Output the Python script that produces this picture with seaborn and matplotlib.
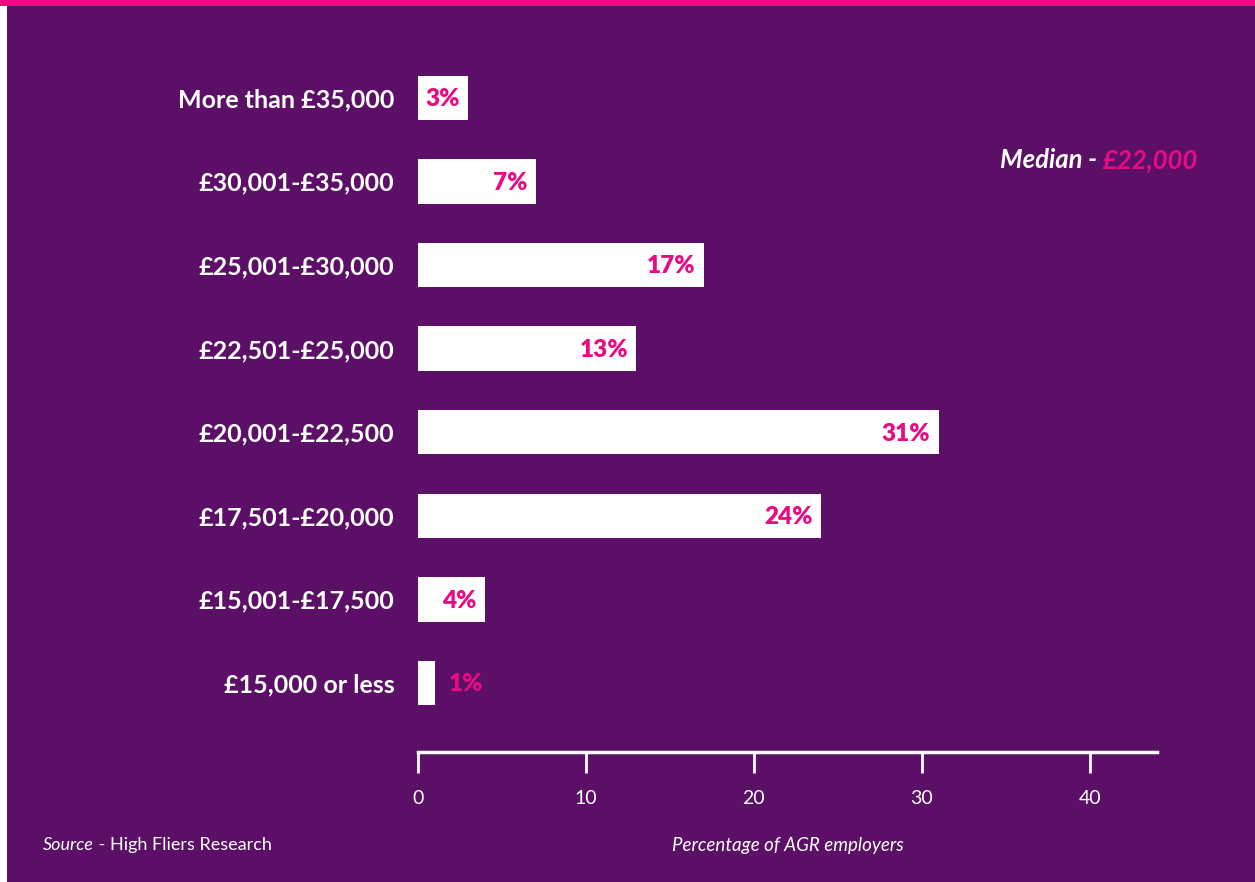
import matplotlib
matplotlib.use("Agg")
import matplotlib.pyplot as plt
import seaborn as sns
import pandas as pd
from matplotlib.patches import Rectangle

# Starting salary bands and share of employers
bands = ["More than £35,000", "£30,001-£35,000", "£25,001-£30,000", "£22,501-£25,000",
         "£20,001-£22,500", "£17,501-£20,000", "£15,001-£17,500", "£15,000 or less"]
shares = [3, 7, 17, 13, 31, 24, 4, 1]
x_ticks = [0, 10, 20, 30, 40]
median_text = "£22,000"

PURPLE = "#5C0F66"
PINK = "#EA0A82"
WHITE = "#FFFFFF"
FONT = "Lato"

sns.set_theme(style="white")
plt.rcParams["font.family"] = [FONT, "DejaVu Sans"]

df = pd.DataFrame({"band": bands, "share": shares})

fig = plt.figure(figsize=(12.55, 8.82), dpi=100)
fig.patch.set_facecolor(WHITE)

# page background: purple panel with pink top stripe
fig.add_artist(Rectangle((7 / 1255, 0), 1 - 7 / 1255, 1 - 6 / 882,
                         transform=fig.transFigure, facecolor=PURPLE, edgecolor="none", zorder=0))
fig.add_artist(Rectangle((0, 1 - 6 / 882), 1, 6 / 882,
                         transform=fig.transFigure, facecolor=PINK, edgecolor="none", zorder=0))

ax = fig.add_axes([418 / 1255, 1 - 752 / 882, 739 / 1255, 696 / 882])
ax.set_facecolor("none")

sns.barplot(data=df, y="band", x="share", orient="h", color=WHITE, saturation=1,
            width=0.53, ax=ax, edgecolor="none")

ax.set_xlim(0, 44)
ax.set_ylim(7.826, -0.5)

# value labels
for i, v in enumerate(shares):
    if v >= 2:
        ax.annotate(f"{v}%", xy=(v, i), xytext=(-6, -1), textcoords="offset points",
                    ha="right", va="center", color=PINK, fontsize=17.5, fontweight="heavy")
    else:
        ax.annotate(f"{v}%", xy=(v, i), xytext=(10, -1), textcoords="offset points",
                    ha="left", va="center", color=PINK, fontsize=17.5, fontweight="heavy")

for s in ["top", "right", "left"]:
    ax.spines[s].set_visible(False)
ax.spines["bottom"].set_color(WHITE)
ax.spines["bottom"].set_linewidth(2.5)

ax.set_xticks(x_ticks)
ax.set_xticklabels([str(t) for t in x_ticks])
ax.tick_params(axis="x", direction="out", length=15, width=2, colors=WHITE,
               labelsize=14, pad=12, bottom=True)
ax.tick_params(axis="y", length=0, pad=17, labelcolor=WHITE, labelsize=18)
for lab in ax.get_yticklabels():
    lab.set_fontweight("bold")

ax.set_ylabel("")
ax.set_xlabel("Percentage of AGR employers", color=WHITE, fontsize=13.5,
              fontstyle="italic", labelpad=22)

# median annotation
fig.text(1000 / 1255, 1 - 160 / 882, "Median - ", color=WHITE, fontsize=18.5,
         fontweight="bold", fontstyle="italic", ha="left", va="center")
t = fig.text(1000 / 1255, 1 - 160 / 882, "Median - ", color="none", fontsize=18.5,
             fontweight="bold", fontstyle="italic", ha="left", va="center")
fig.canvas.draw()
bb = t.get_window_extent()
fig.text(bb.x1 / fig.bbox.width, 1 - 160 / 882, median_text, color=PINK, fontsize=18.5,
         fontweight="bold", fontstyle="italic", ha="left", va="center")

# source note
s1 = fig.text(43 / 1255, 1 - 845 / 882, "Source", color=WHITE, fontsize=13,
              fontstyle="italic", ha="left", va="center")
fig.canvas.draw()
bb = s1.get_window_extent()
fig.text(bb.x1 / fig.bbox.width, 1 - 845 / 882, " - High Fliers Research", color=WHITE,
         fontsize=13, ha="left", va="center")

fig.savefig("out.png", dpi=100, facecolor=fig.get_facecolor())
